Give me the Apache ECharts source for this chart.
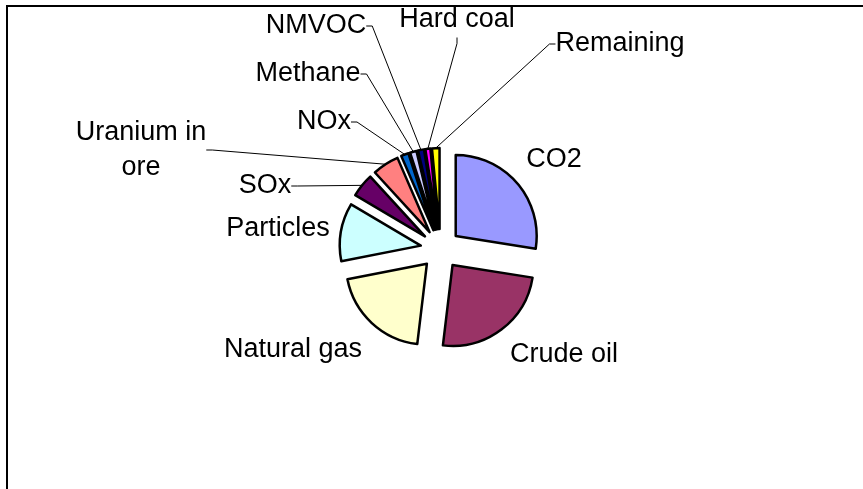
<!DOCTYPE html>
<html>
<head>
<meta charset="utf-8">
<script src="https://cdn.jsdelivr.net/npm/echarts@6/dist/echarts.min.js"></script>
<style>
  html, body { margin: 0; padding: 0; background: #fff; }
  #chart { width: 863px; height: 489px; }
</style>
</head>
<body>
<div id="chart"></div>
<script>
  // shares of the total (percent)
  const categories = ['CO2', 'Crude oil', 'Natural gas', 'Particles', 'SOx', 'Uranium in ore',
    'NOx', 'Methane', 'NMVOC', 'Hard coal', 'Remaining'];
  const shares = [27.5, 24.4, 20.0, 11.6, 4.7, 5.3, 1.5, 1.3, 1.2, 1.0, 1.5];
  const colors = ['#9999FF', '#993366', '#FFFFCC', '#CCFFFF', '#660066', '#FF8080',
    '#0066CC', '#CCCCFF', '#000080', '#FF00FF', '#FFFF00'];
  const labelTexts = ['CO2', 'Crude oil', 'Natural gas', 'Particles', 'SOx', 'Uranium in\nore',
    'NOx', 'Methane', 'NMVOC', 'Hard coal', 'Remaining'];
  const hasLeader = [false, false, false, false, true, true, true, true, true, true, true];

  // where each label sits (centre of the text)
  const labelPos = [
    [554, 160], [564, 355], [293, 350], [278, 229], [265, 186], [141, 150],
    [324, 122], [308, 74], [316, 26], [457, 20], [620, 44]
  ];

  const pieCenter = [440.5, 249];
  const pieRadius = 81;
  const explode = 20;

  let myChart = echarts.init(document.getElementById('chart'));

  let slices = [];
  let labels = [];
  for (let i = 0; i < categories.length; i++) {
    slices.push({
      name: categories[i],
      value: shares[i],
      selected: true,
      itemStyle: { color: colors[i] }
    });
    labels.push({
      name: categories[i],
      value: shares[i],
      label: { formatter: labelTexts[i] },
      labelLine: { show: hasLeader[i] }
    });
  }

  let option = {
    backgroundColor: '#fff',
    animation: false,
    graphic: [{
      type: 'rect',
      z: -1,
      shape: { x: 7, y: 6, width: 900, height: 600 },
      style: { fill: 'none', stroke: '#000', lineWidth: 2 }
    }],
    series: [{
      // exploded slices
      name: 'Impact',
      type: 'pie',
      center: pieCenter,
      radius: pieRadius,
      startAngle: 90,
      clockwise: true,
      selectedMode: 'multiple',
      selectedOffset: explode,
      data: slices,
      itemStyle: { borderColor: '#000', borderWidth: 2.5 },
      select: { itemStyle: { borderColor: '#000', borderWidth: 2.5 } },
      emphasis: { disabled: true },
      label: { show: false },
      labelLine: { show: false }
    }, {
      // invisible twin that carries the labels and leader lines
      name: 'Labels',
      type: 'pie',
      silent: true,
      center: pieCenter,
      radius: pieRadius + explode,
      startAngle: 90,
      clockwise: true,
      avoidLabelOverlap: false,
      minShowLabelAngle: 0,
      data: labels,
      itemStyle: { color: 'rgba(0,0,0,0)', borderWidth: 0 },
      emphasis: { disabled: true },
      label: {
        show: true,
        position: 'outside',
        color: '#000',
        fontFamily: 'Liberation Sans, Arial, sans-serif',
        fontSize: 27,
        lineHeight: 35,
        align: 'center'
      },
      labelLine: {
        length: 8,
        length2: 6,
        smooth: false,
        lineStyle: { color: '#000', width: 1 }
      },
      labelLayout: function (params) {
        let p = labelPos[params.dataIndex];
        return { x: p[0], y: p[1], align: 'center', verticalAlign: 'middle' };
      }
    }]
  };
  myChart.setOption(option);
</script>
</body>
</html>
